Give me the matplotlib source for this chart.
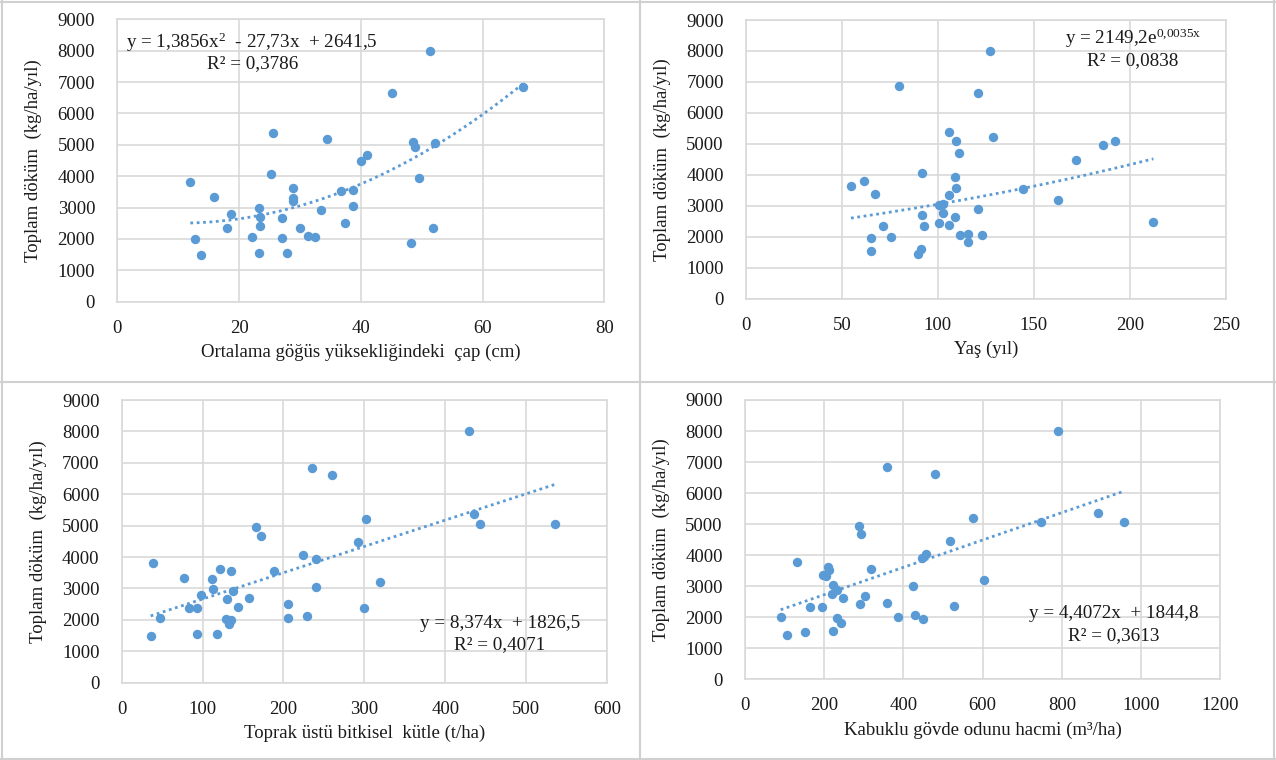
import numpy as np
import matplotlib
matplotlib.use('Agg')
import matplotlib.pyplot as plt
from matplotlib.lines import Line2D

plt.rcParams['font.family'] = ['Liberation Serif', 'DejaVu Serif']
plt.rcParams['mathtext.fontset'] = 'custom'
plt.rcParams['mathtext.rm'] = 'Liberation Serif'
plt.rcParams['mathtext.it'] = 'Liberation Serif:italic'

# Toplam döküm (y) ortak eksen etiketi
y_label = "Toplam döküm  (kg/ha/yıl)"

# 1) Ortalama göğüs yüksekliğindeki çap
cap_x = [51.3, 66.6, 45.1, 25.6, 34.4, 48.5, 48.9, 52.2, 41.1, 40.1, 25.2, 12.0, 49.6,
         28.8, 36.7, 38.8, 15.9, 28.8, 28.9, 23.2, 33.5, 38.8, 18.6, 23.5, 27.0, 18.1,
         23.5, 30.0, 37.4, 51.8, 12.7, 22.2, 27.0, 31.4, 32.5, 13.7, 23.3, 27.9, 48.2]
cap_y = [8000, 6840, 6640, 5370, 5200, 5080, 4940, 5070, 4690, 4470, 4070, 3800, 3930,
         3630, 3540, 3550, 3340, 3290, 3210, 3000, 2920, 3050, 2800, 2710, 2660, 2360,
         2400, 2360, 2500, 2360, 1990, 2060, 2020, 2100, 2060, 1480, 1560, 1560, 1860]

# 2) Yaş
yas_x = [127.0, 79.6, 120.9, 105.6, 109.6, 128.9, 111.0, 185.9, 192.5, 171.8, 91.6, 108.9, 54.7,
         61.5, 109.6, 144.2, 67.4, 105.6, 162.4, 100.8, 102.8, 102.8, 120.9, 91.6, 108.9, 71.4,
         92.8, 100.8, 105.6, 212.3, 65.0, 75.4, 111.5, 115.7, 123.0, 115.7, 65.0, 91.0, 89.6]
yas_y = [8000, 6880, 6630, 5380, 5090, 5220, 4690, 4960, 5090, 4490, 4060, 3930, 3640,
         3800, 3590, 3540, 3380, 3340, 3200, 3040, 3060, 2780, 2900, 2690, 2650, 2350,
         2350, 2430, 2390, 2480, 1960, 2000, 2050, 2100, 2050, 1830, 1540, 1590, 1440]

# 3) Toprak üstü bitkisel kütle
kutle_x = [429.7, 235.3, 260.0, 302.0, 435.1, 442.9, 536.0, 166.5, 171.8, 292.5, 223.7, 240.2, 39.1,
           77.1, 121.1, 135.6, 187.9, 111.2, 318.9, 112.9, 240.2, 137.6, 98.1, 130.6, 157.0, 82.8,
           93.1, 143.8, 206.0, 299.1, 47.4, 129.0, 135.6, 132.3, 206.0, 229.1, 35.8, 93.1, 117.4]
kutle_y = [8000, 6840, 6620, 5200, 5360, 5060, 5060, 4950, 4680, 4480, 4050, 3930, 3800,
           3330, 3630, 3550, 3550, 3290, 3210, 2990, 3040, 2920, 2780, 2650, 2700, 2370,
           2370, 2400, 2490, 2370, 2070, 2040, 2000, 1860, 2070, 2110, 1480, 1560, 1560]

# 4) Kabuklu gövde odunu hacmi
hacim_x = [789.4, 359.3, 478.8, 575.6, 747.3, 892.0, 956.8, 287.8, 293.7, 516.7, 457.0, 446.9, 132.1,
           209.5, 212.9, 317.3, 197.8, 204.5, 604.2, 222.2, 423.3, 232.3, 218.8, 248.3, 303.8, 164.1,
           193.6, 290.3, 358.5, 526.8, 90.0, 232.3, 242.4, 385.4, 430.0, 448.5, 106.9, 152.3, 223.0]
hacim_y = [8000, 6850, 6610, 5190, 5070, 5360, 5060, 4940, 4680, 4470, 4040, 3920, 3780,
           3610, 3510, 3570, 3350, 3330, 3190, 3030, 3020, 2890, 2760, 2630, 2670, 2320,
           2320, 2420, 2460, 2370, 2020, 1980, 1830, 2020, 2070, 1940, 1430, 1510, 1570]

# trend denklemleri (grafikteki katsayılar)
poly_cap = [1.3856, -27.73, 2641.5]
exp_yas = (2149.2, 0.0035)
lin_kutle = [8.374, 1826.5]
lin_hacim = [4.4072, 1844.8]

W, H = 1276, 760
fig = plt.figure(figsize=(W / 100, H / 100), dpi=100)

BLUE = '#5B9BD5'
GRID = '#d9d9d9'
TXT = '#1a1a1a'


def make_ax(rect, x, y, xmax, xstep, xlabel):
    ax = fig.add_axes(rect)
    ax.set_xlim(0, xmax)
    ax.set_ylim(0, 9000)
    ax.set_xticks(np.arange(0, xmax + 1, xstep))
    ax.set_yticks(np.arange(0, 9001, 1000))
    ax.grid(True, color=GRID, linewidth=1.2)
    ax.set_axisbelow(True)
    for s in ax.spines.values():
        s.set_color(GRID)
        s.set_linewidth(1.2)
    ax.tick_params(length=0, labelsize=13.5, colors=TXT, pad=13)
    ax.tick_params(axis='y', pad=16)
    ax.scatter(x, y, s=46, color=BLUE, zorder=3, linewidths=0)
    ax.set_xlabel(xlabel, fontsize=13.5, color=TXT, labelpad=5)
    ax.set_ylabel(y_label, fontsize=13.5, color=TXT, labelpad=11)
    return ax


def trend(ax, xs, f):
    xx = np.linspace(min(xs), max(xs), 200)
    ax.plot(xx, f(xx), color=BLUE, linestyle=(0, (1, 1.3)), linewidth=2, zorder=2)


ax1 = make_ax([117.3 / W, 1 - 301.7 / H, 487 / W, 282.4 / H], cap_x, cap_y, 80, 20,
              "Ortalama göğüs yüksekliğindeki  çap (cm)")
trend(ax1, cap_x, lambda v: np.polyval(poly_cap, v))

ax2 = make_ax([746 / W, 1 - 298.7 / H, 479.7 / W, 278.7 / H], yas_x, yas_y, 250, 50, "Yaş (yıl)")
trend(ax2, yas_x, lambda v: exp_yas[0] * np.exp(exp_yas[1] * v))

ax3 = make_ax([121.7 / W, 1 - 682.7 / H, 485.3 / W, 282.7 / H], kutle_x, kutle_y, 600, 100,
              "Toprak üstü bitkisel  kütle (t/ha)")
trend(ax3, kutle_x, lambda v: np.polyval(lin_kutle, v))

ax4 = make_ax([745 / W, 1 - 679.3 / H, 475.3 / W, 279.3 / H], hacim_x, hacim_y, 1200, 200,
              "Kabuklu gövde odunu hacmi (m³/ha)")
trend(ax4, hacim_x, lambda v: np.polyval(lin_hacim, v))

# denklem metinleri
EQ = 13.8
kw = dict(ha='center', va='center', fontsize=EQ, color=TXT)
fig.text(252 / W, 1 - 42 / H, r"y = 1,3856x$^{2}$  - 27,73x  + 2641,5", **kw)
fig.text(253 / W, 1 - 64 / H, "R² = 0,3786", **kw)
fig.text(1133 / W, 1 - 38 / H, r"y = 2149,2e$^{\mathrm{0{,}0035x}}$", **kw)
fig.text(1133 / W, 1 - 61 / H, "R² = 0,0838", **kw)
fig.text(500 / W, 1 - 623 / H, "y = 8,374x  + 1826,5", **kw)
fig.text(500 / W, 1 - 645 / H, "R² = 0,4071", **kw)
fig.text(1114 / W, 1 - 613 / H, "y = 4,4072x  + 1844,8", **kw)
fig.text(1114 / W, 1 - 636 / H, "R² = 0,3613", **kw)

# panel çerçeveleri
for xs_, ys_ in [([2 / W, 2 / W], [0, 1]), ([1274 / W, 1274 / W], [0, 1]),
                 ([0, 1], [1 - 1.5 / H, 1 - 1.5 / H]), ([0, 1], [1.5 / H, 1.5 / H]),
                 ([640 / W, 640 / W], [0, 1]), ([0, 1], [1 - 381.5 / H, 1 - 381.5 / H])]:
    fig.add_artist(Line2D(xs_, ys_, color='#d0d0d0', linewidth=1.5))

fig.savefig('out.png', dpi=100, facecolor='white')
